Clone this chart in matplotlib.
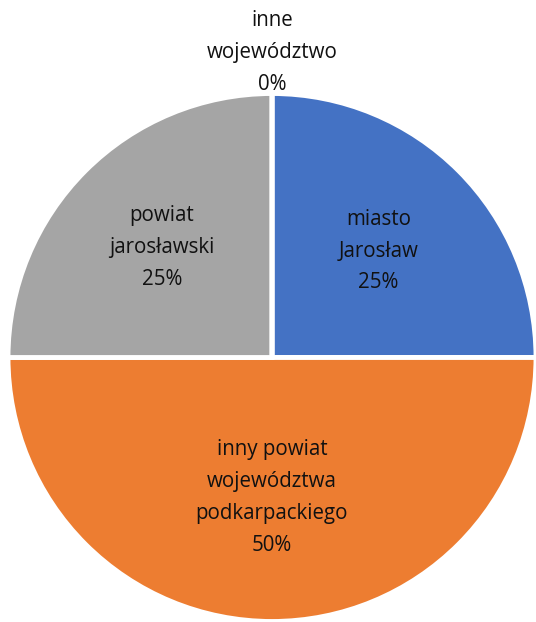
import matplotlib
matplotlib.use("Agg")
import matplotlib.pyplot as plt
import numpy as np

# slices in drawing order (clockwise from 12 o'clock)
labels = ["miasto\nJarosław", "inny powiat\nwojewództwa\npodkarpackiego",
          "powiat\njarosławski", "inne\nwojewództwo"]
shares = [25, 50, 25, 0]
colors = ["#4472C4", "#ED7D31", "#A5A5A5", "#FFC000"]
label_dist = [0.57, 0.53, 0.59, 1.155]

plt.rcParams['font.family'] = ['Open Sans', 'DejaVu Sans']

fig = plt.figure(figsize=(5.36, 6.22), dpi=100)
ax = fig.add_axes([8 / 536, 0.0, 528 / 536, 529 / 622])

wedges, _ = ax.pie(shares, colors=colors, startangle=90, counterclock=False,
                   radius=1.0, wedgeprops=dict(edgecolor="white", linewidth=3.5))
ax.set_xlim(-1, 1)
ax.set_ylim(-1, 1)
ax.set_aspect("equal")
ax.axis("off")

total = sum(shares)
for w, lab, val, d in zip(wedges, labels, shares, label_dist):
    mid = np.deg2rad((w.theta1 + w.theta2) / 2)
    x, y = d * np.cos(mid), d * np.sin(mid)
    ax.text(x, y, f"{lab}\n{val / total:.0%}", ha="center", va="center",
            fontsize=14.8, color="#111111", linespacing=1.68, clip_on=False)

fig.savefig("out.png", dpi=100)
